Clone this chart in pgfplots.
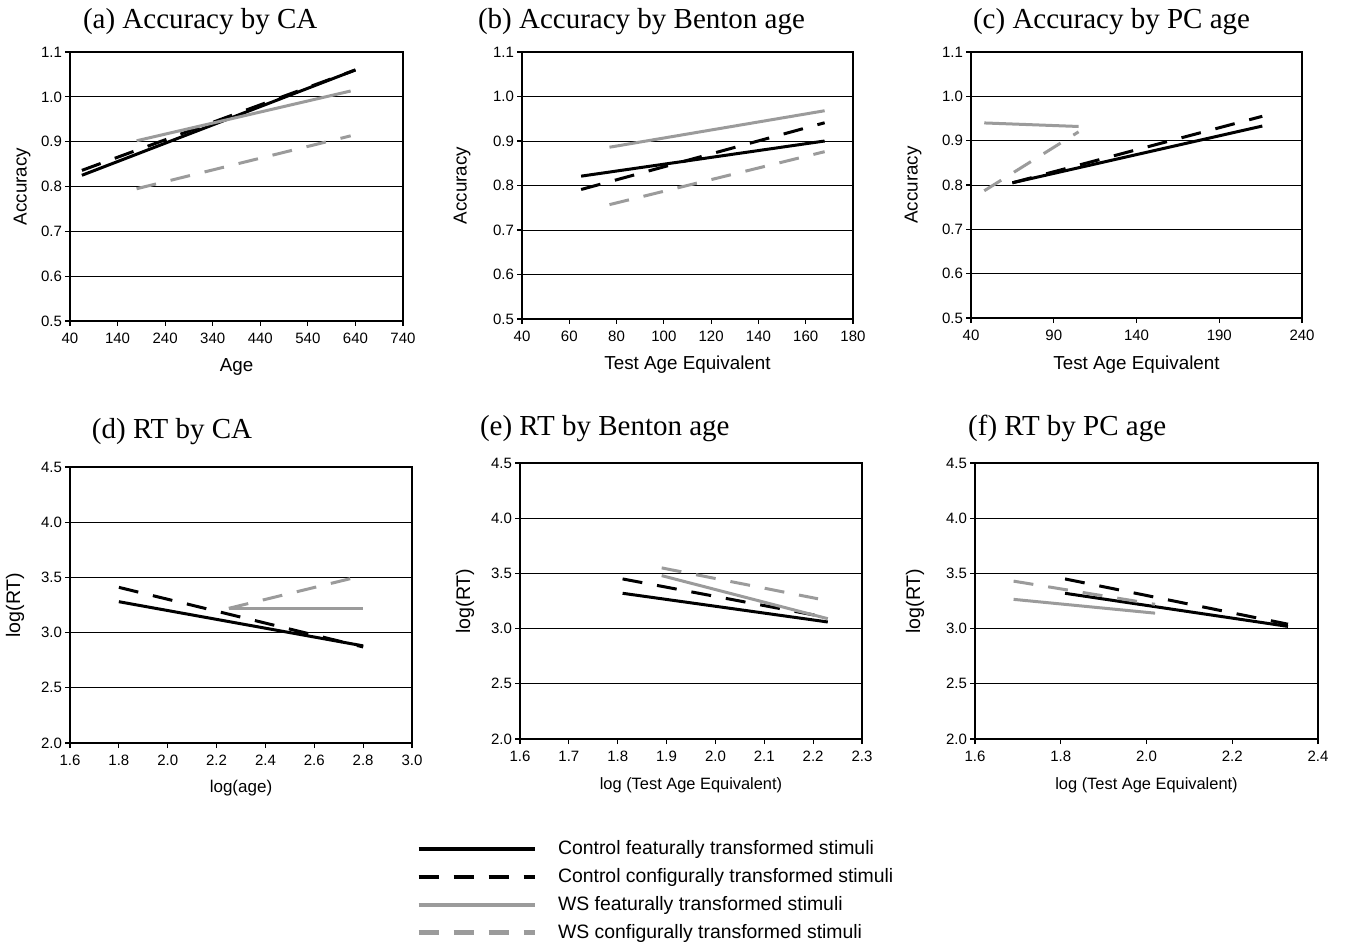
\documentclass[border=0pt]{standalone}
\usepackage{fontspec}
\setmainfont{Liberation Sans}
\newfontfamily\titlefont{Liberation Serif}
\usepackage{pgfplots}
\pgfplotsset{compat=1.18}
\definecolor{wsgray}{RGB}{155,155,155}

\pgfplotsset{
  panel/.style={
    scale only axis,
    anchor=north west,
    axis line style={line width=0.7pt},
    tick align=outside,
    xtick pos=left, ytick pos=left,
    major tick length=2.5pt,
    tick style={black, line width=0.6pt},
    ymajorgrids,
    major grid style={black, line width=0.45pt},
    /pgf/number format/assume math mode=true,
    tick label style={font=\fontsize{7.5}{9}\selectfont},
    label style={font=\fontsize{9.4}{11}\selectfont},
    % yshift is cumulative in TikZ: cancel the default 6pt lift of titles
    title style={font=\titlefont\fontsize{14.5}{17}\selectfont, anchor=west, yshift=-6pt, xshift=-3.5pt},
    yticklabel style={xshift=2pt},
    yticklabel style={/pgf/number format/.cd, fixed, fixed zerofill, precision=1},
  },
  accpanel/.style={panel,
    ymin=0.5, ymax=1.1, ytick={0.5,0.6,0.7,0.8,0.9,1.0,1.1},
    ylabel={Accuracy}},
  rtpanel/.style={panel,
    ymin=2.0, ymax=4.5, ytick={2.0,2.5,3.0,3.5,4.0,4.5},
    ylabel={log(RT)},
    xticklabel style={/pgf/number format/.cd, fixed, fixed zerofill, precision=1}},
  cfeat/.style={black, line width=1.5pt},
  cconf/.style={black, line width=1.5pt, dash pattern=on 10pt off 7.5pt},
  wfeat/.style={wsgray, line width=1.5pt},
  wconf/.style={wsgray, line width=1.5pt, dash pattern=on 10pt off 7.5pt},
}

\begin{document}
\begin{tikzpicture}
\useasboundingbox (0pt,0pt) rectangle (673.5pt,-471.5pt);

% (a)
\begin{axis}[accpanel, at={(35pt,-26pt)}, width=166.5pt, height=134.5pt,
  xmin=40, xmax=740, xtick={40,140,240,340,440,540,640,740},
  xlabel={Age},
  xlabel style={at={(axis description cs:0.5,-0.171)}, anchor=center},
  ylabel style={at={(axis description cs:-0.144,0.5)}, anchor=center},
  title={(a) Accuracy by CA}, title style={at={(axis description cs:0.039,1.115)}}]
\addplot[cfeat] coordinates {(65,0.825) (640,1.06)};
\addplot[cconf] coordinates {(65,0.836) (640,1.06)};
\addplot[wfeat] coordinates {(180,0.902) (630,1.013)};
\addplot[wconf] coordinates {(180,0.795) (630,0.913)};
\end{axis}

% (b)
\begin{axis}[accpanel, at={(261pt,-26pt)}, width=165.5pt, height=133.5pt,
  xmin=40, xmax=180, xtick={40,60,80,100,120,140,160,180},
  xlabel={Test Age Equivalent},
  xlabel style={at={(axis description cs:0.5,-0.172)}, anchor=center},
  ylabel style={at={(axis description cs:-0.181,0.5)}, anchor=center},
  title={(b) Accuracy by Benton age}, title style={at={(axis description cs:-0.133,1.115)}}]
\addplot[cfeat] coordinates {(65,0.821) (168,0.900)};
\addplot[cconf] coordinates {(65,0.791) (168,0.941)};
\addplot[wfeat] coordinates {(77,0.886) (168,0.968)};
\addplot[wconf] coordinates {(77,0.757) (168,0.876)};
\end{axis}

% (c)
\begin{axis}[accpanel, at={(485.5pt,-26pt)}, width=165.5pt, height=133pt,
  xmin=40, xmax=240, xtick={40,90,140,190,240},
  xlabel={Test Age Equivalent},
  xlabel style={at={(axis description cs:0.5,-0.177)}, anchor=center},
  ylabel style={at={(axis description cs:-0.175,0.5)}, anchor=center},
  title={(c) Accuracy by PC age}, title style={at={(axis description cs:0.006,1.115)}}]
\addplot[cfeat] coordinates {(65,0.805) (216,0.933)};
\addplot[cconf] coordinates {(65,0.805) (216,0.955)};
\addplot[wfeat] coordinates {(48,0.940) (105,0.932)};
\addplot[wconf] coordinates {(48,0.787) (105,0.920)};
\end{axis}

% (d)
\begin{axis}[rtpanel, at={(35pt,-233.5pt)}, width=171pt, height=138pt,
  xmin=1.6, xmax=3.0, xtick={1.6,1.8,2.0,2.2,2.4,2.6,2.8,3.0},
  xlabel={log(age)},
  xlabel style={font=\fontsize{8.5}{10}\selectfont, at={(axis description cs:0.5,-0.163)}, anchor=center},
  ylabel style={font=\fontsize{9.8}{11}\selectfont, at={(axis description cs:-0.161,0.5)}, anchor=center},
  title={(d) RT by CA}, title style={at={(axis description cs:0.064,1.13)}}]
\addplot[cfeat] coordinates {(1.8,3.28) (2.8,2.88)};
\addplot[cconf] coordinates {(1.8,3.41) (2.8,2.87)};
\addplot[wfeat] coordinates {(2.25,3.215) (2.8,3.215)};
\addplot[wconf] coordinates {(2.25,3.22) (2.75,3.49)};
\end{axis}

% (e)
\begin{axis}[rtpanel, at={(260pt,-231.5pt)}, width=171pt, height=138pt,
  xmin=1.6, xmax=2.3, xtick={1.6,1.7,1.8,1.9,2.0,2.1,2.2,2.3},
  xlabel={log (Test Age Equivalent)},
  xlabel style={font=\fontsize{8.2}{10}\selectfont, at={(axis description cs:0.5,-0.167)}, anchor=center},
  ylabel style={font=\fontsize{9.8}{11}\selectfont, at={(axis description cs:-0.161,0.5)}, anchor=center},
  title={(e) RT by Benton age}, title style={at={(axis description cs:-0.117,1.125)}},
  legend style={at={(axis description cs:-0.304,-0.352)}, anchor=north west,
    draw=none, fill=none, inner sep=0pt, row sep=1.4pt,
    font=\fontsize{9.7}{11}\selectfont,
    /tikz/every odd column/.append style={column sep=8.5pt}},
  legend cell align=left,
  legend image code/.code={\draw[#1, line width=2.3pt] (0pt,0pt) -- (58pt,0pt);}]
\addplot[cfeat] coordinates {(1.81,3.32) (2.23,3.06)};
\addlegendentry{Control featurally transformed stimuli}
\addplot[cconf] coordinates {(1.81,3.45) (2.23,3.10)};
\addlegendentry{Control configurally transformed stimuli}
\addplot[wfeat] coordinates {(1.89,3.48) (2.23,3.09)};
\addlegendentry{WS featurally transformed stimuli}
\addplot[wconf] coordinates {(1.89,3.55) (2.21,3.27)};
\addlegendentry{WS configurally transformed stimuli}
\end{axis}

% (f)
\begin{axis}[rtpanel, at={(487.5pt,-231.5pt)}, width=171.5pt, height=138pt,
  xmin=1.6, xmax=2.4, xtick={1.6,1.8,2.0,2.2,2.4},
  xlabel={log (Test Age Equivalent)},
  xlabel style={font=\fontsize{8.2}{10}\selectfont, at={(axis description cs:0.5,-0.167)}, anchor=center},
  ylabel style={font=\fontsize{9.8}{11}\selectfont, at={(axis description cs:-0.175,0.5)}, anchor=center},
  title={(f) RT by PC age}, title style={at={(axis description cs:-0.02,1.125)}}]
\addplot[cfeat] coordinates {(1.81,3.32) (2.33,3.02)};
\addplot[cconf] coordinates {(1.81,3.45) (2.33,3.04)};
\addplot[wfeat] coordinates {(1.69,3.265) (2.02,3.14)};
\addplot[wconf] coordinates {(1.69,3.43) (2.02,3.22)};
\end{axis}
\end{tikzpicture}
\end{document}
